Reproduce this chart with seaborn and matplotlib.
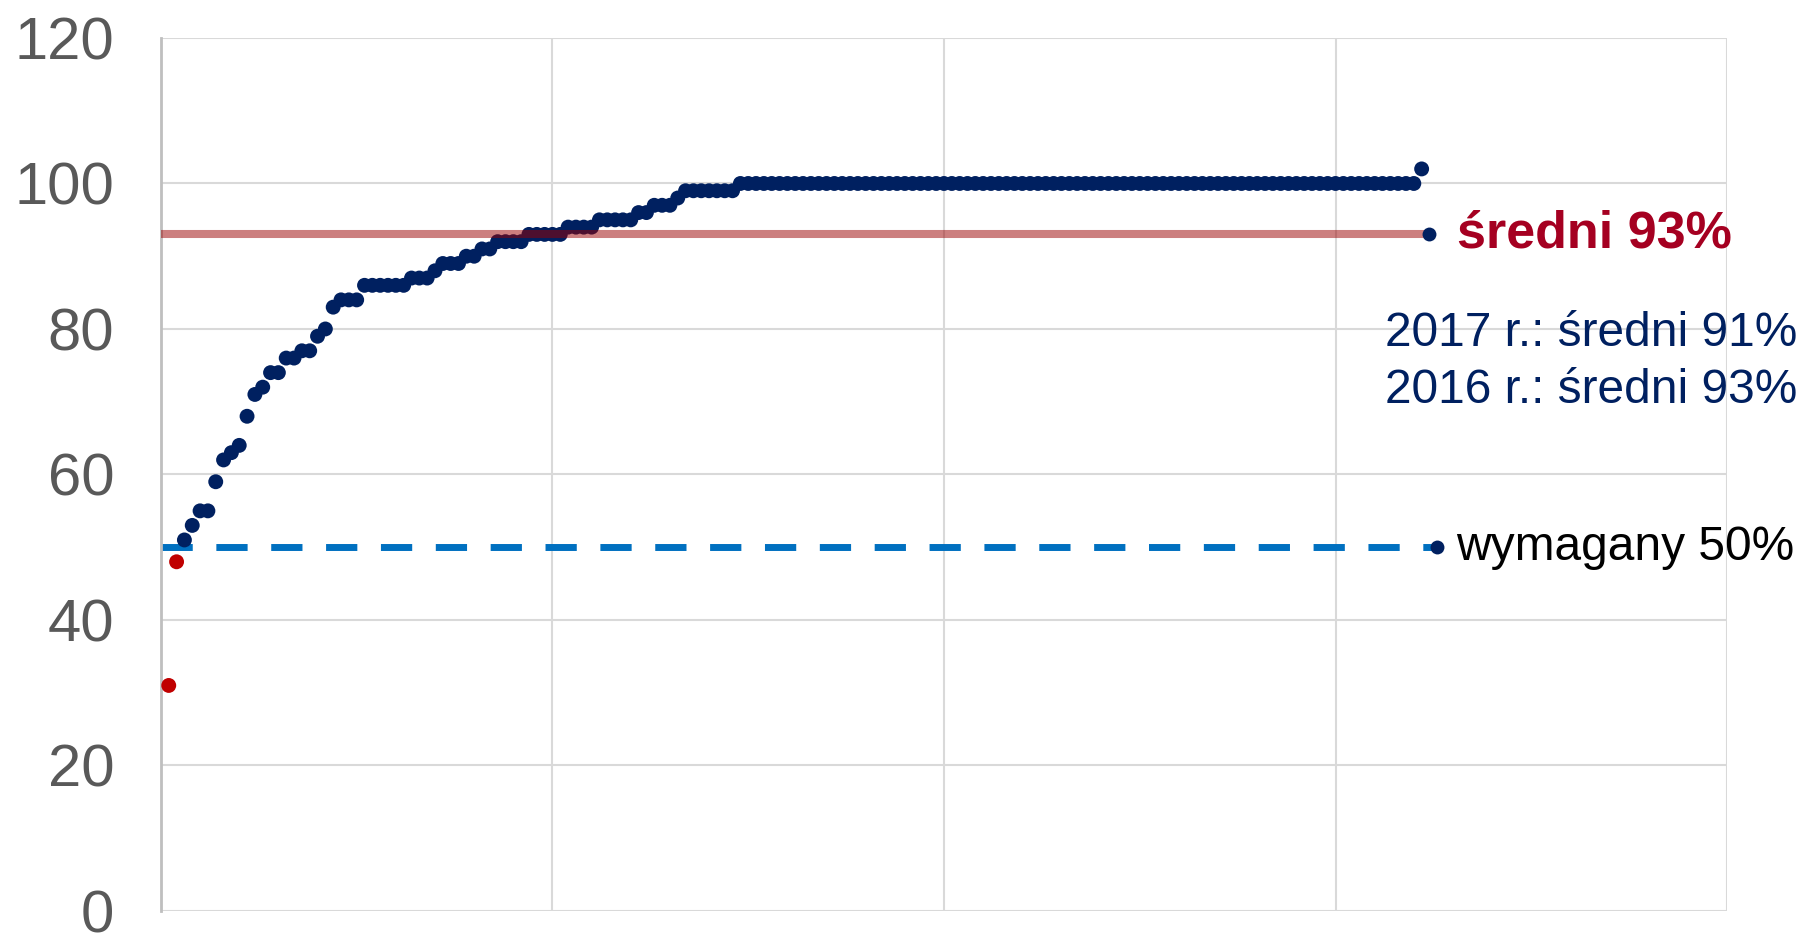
import numpy as np
import pandas as pd
import matplotlib
matplotlib.use('Agg')
import matplotlib.pyplot as plt
import seaborn as sns

# wyniki posortowane rosnaco (1 punkt = 1 jednostka)
scores = [31, 48, 51, 53, 55, 55, 59, 62, 63, 64,
          68, 71, 72, 74, 74, 76, 76, 77, 77, 79,
          80, 83, 84, 84, 84, 86, 86, 86, 86, 86,
          86, 87, 87, 87, 88, 89, 89, 89, 90, 90,
          91, 91, 92, 92, 92, 92, 93, 93, 93, 93,
          93, 94, 94, 94, 94, 95, 95, 95, 95, 95,
          96, 96, 97, 97, 97, 98, 99, 99, 99, 99,
          99, 99, 99, 100, 100, 100, 100, 100, 100, 100,
          100, 100, 100, 100, 100, 100, 100, 100, 100, 100,
          100, 100, 100, 100, 100, 100, 100, 100, 100, 100,
          100, 100, 100, 100, 100, 100, 100, 100, 100, 100,
          100, 100, 100, 100, 100, 100, 100, 100, 100, 100,
          100, 100, 100, 100, 100, 100, 100, 100, 100, 100,
          100, 100, 100, 100, 100, 100, 100, 100, 100, 100,
          100, 100, 100, 100, 100, 100, 100, 100, 100, 100,
          100, 100, 100, 100, 100, 100, 100, 100, 100, 100,
          102]
mean_value = 93
required_value = 50
mean_label = 'średni 93%'
required_label = 'wymagany 50%'
history_labels = ['2017 r.: średni 91%', '2016 r.: średni 93%']
y_ticks = [0, 20, 40, 60, 80, 100, 120]

df = pd.DataFrame({'nr': np.arange(1, len(scores) + 1), 'wynik': scores})
df['status'] = np.where(df['wynik'] < required_value, 'ponizej', 'ok')

navy = '#002060'

plt.rcParams['font.family'] = ['Liberation Sans', 'DejaVu Sans']

fig = plt.figure(figsize=(18.02, 9.33), dpi=100)
ax = fig.add_axes([0.0893, 0.0236, 0.8691, 0.9357])

sns.scatterplot(data=df, x='nr', y='wynik', hue='status',
                palette={'ok': navy, 'ponizej': '#C00000'},
                s=115, linewidth=0, legend=False, ax=ax, zorder=3)

n = len(scores)
# linia sredniej i wymaganego progu, z kropka na koncu
ax.plot([0, n + 1], [mean_value, mean_value], color='#9B0000', alpha=0.5,
        lw=5.8, solid_capstyle='butt', zorder=4)
ax.plot([n + 1], [mean_value], 'o', color=navy, ms=10, mew=0, zorder=5)
ax.plot([0, n + 2], [required_value, required_value], color='#0070C0',
        lw=5, dashes=(4.5, 3.4), zorder=2)
ax.plot([n + 2], [required_value], 'o', color=navy, ms=10, mew=0, zorder=5)

ax.text(165.5, mean_value, mean_label, color='#A50021', fontsize=37.5,
        fontweight='bold', va='center', ha='left', clip_on=False)
ax.text(156.3, 79.4, history_labels[0], color=navy, fontsize=34.5,
        va='center', ha='left', clip_on=False)
ax.text(156.3, 71.5, history_labels[1], color=navy, fontsize=34.5,
        va='center', ha='left', clip_on=False)
ax.text(165.4, required_value, required_label, color='black', fontsize=34.5,
        va='center', ha='left', clip_on=False)

ax.set_xlim(0, 200)
ax.set_ylim(0, 120)
ax.set_xticks([0, 50, 100, 150, 200])
ax.set_xticklabels([])
ax.set_yticks(y_ticks)
ax.set_yticklabels([str(t) for t in y_ticks])
ax.tick_params(axis='both', length=0)
ax.tick_params(axis='y', labelsize=43, labelcolor='#595959', pad=33.5)
ax.set_xlabel('')
ax.set_ylabel('')
ax.grid(True, color='#D9D9D9', lw=1.5)
ax.set_axisbelow(True)
for side in ['top', 'right', 'bottom']:
    ax.spines[side].set_visible(False)
ax.spines['left'].set_color('#BFBFBF')
ax.spines['left'].set_linewidth(2)

fig.savefig('out.png', dpi=100)
